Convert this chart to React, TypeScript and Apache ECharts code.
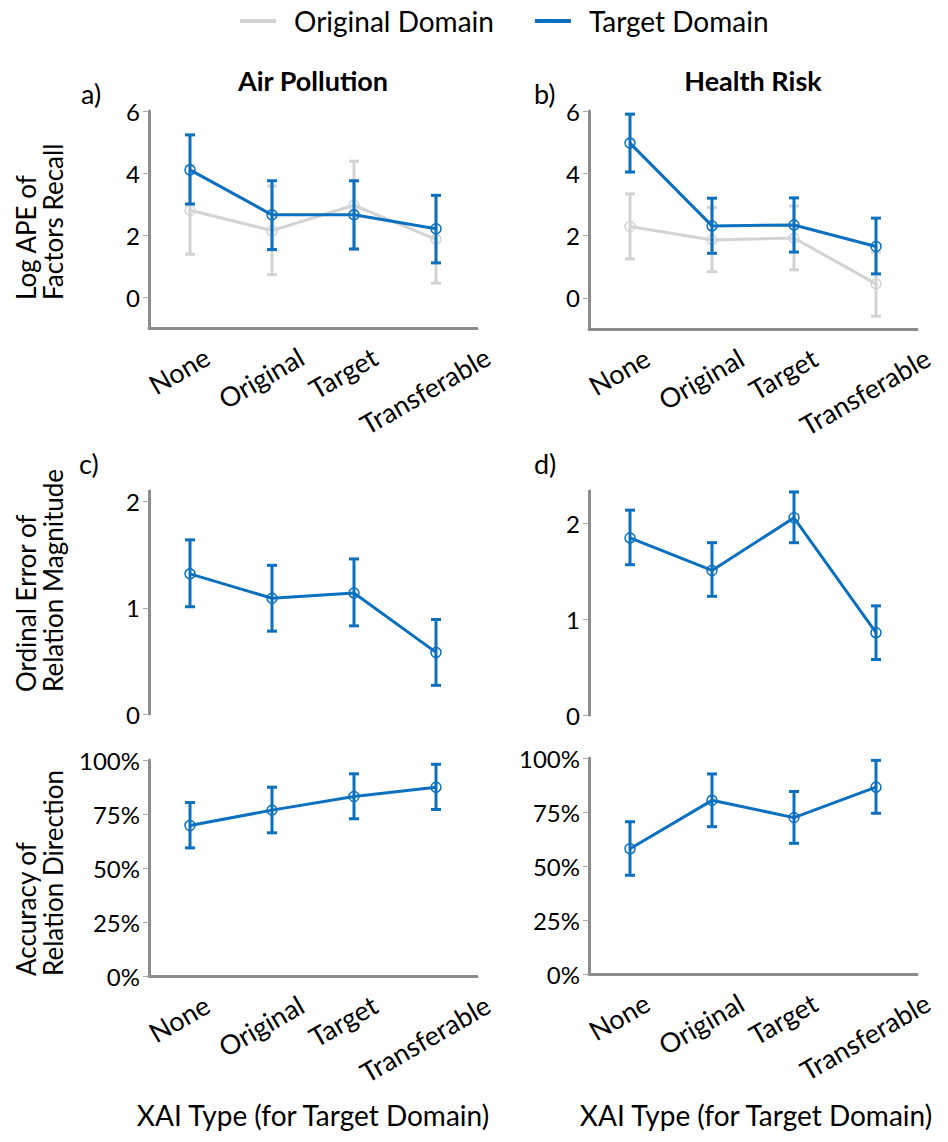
import React, { useEffect, useRef } from "react";
import * as echarts from "echarts";

const categories = ["None", "Original", "Target", "Transferable"];

// a) Air Pollution – Log APE of Factors Recall
const airTargetMean = [4.1, 2.65, 2.65, 2.2];
const airTargetLow = [3.0, 1.53, 1.55, 1.1];
const airTargetHigh = [5.23, 3.75, 3.75, 3.28];
const airOrigMean = [2.8, 2.14, 2.96, 1.86];
const airOrigLow = [1.38, 0.72, 1.54, 0.45];
const airOrigHigh = [4.24, 3.58, 4.38, 3.27];

// b) Health Risk – Log APE of Factors Recall
const healthTargetMean = [4.97, 2.31, 2.34, 1.65];
const healthTargetLow = [4.04, 1.43, 1.47, 0.77];
const healthTargetHigh = [5.9, 3.2, 3.21, 2.56];
const healthOrigMean = [2.29, 1.86, 1.92, 0.45];
const healthOrigLow = [1.25, 0.84, 0.9, -0.59];
const healthOrigHigh = [3.34, 2.9, 2.95, 1.47];

// c) / d) Ordinal Error of Relation Magnitude
const magAirMean = [1.32, 1.09, 1.14, 0.58];
const magAirLow = [1.01, 0.78, 0.83, 0.27];
const magAirHigh = [1.64, 1.4, 1.46, 0.89];
const magHealthMean = [1.85, 1.51, 2.06, 0.86];
const magHealthLow = [1.57, 1.24, 1.8, 0.58];
const magHealthHigh = [2.14, 1.8, 2.33, 1.14];

// Accuracy of Relation Direction
const dirAirMean = [0.697, 0.768, 0.831, 0.874];
const dirAirLow = [0.593, 0.663, 0.728, 0.771];
const dirAirHigh = [0.803, 0.874, 0.936, 0.98];
const dirHealthMean = [0.58, 0.804, 0.724, 0.865];
const dirHealthLow = [0.457, 0.682, 0.605, 0.744];
const dirHealthHigh = [0.705, 0.926, 0.845, 0.989];

const logTicks = [0, 2, 4, 6];
const magTicks = [0, 1, 2];

const BLUE = "#0B70BF";
const GRAY = "#D3D3D3";
const AXIS = "#8C8C8C";
const FONT = "Lato";

export default function App() {
  const ref = useRef<HTMLDivElement>(null);

  useEffect(() => {
    document.body.style.margin = "0";
    const chart = echarts.init(ref.current!, null, { renderer: "svg" });

    const grids = [
      { left: 149, top: 111, width: 328, height: 217 },
      { left: 589, top: 111, width: 328, height: 218 },
      { left: 149, top: 491, width: 328, height: 223 },
      { left: 589, top: 491, width: 328, height: 224 },
      { left: 149, top: 760, width: 328, height: 216 },
      { left: 589, top: 758, width: 328, height: 216 },
    ];

    const xAxes = grids.map((_, i) => ({
      type: "category",
      gridIndex: i,
      data: categories,
      boundaryGap: true,
      axisLine: {
        show: !(i === 2 || i === 3),
        onZero: false,
        lineStyle: { color: AXIS, width: 3 },
      },
      axisTick: { show: false },
      axisLabel: { show: false },
      splitLine: { show: false },
    }));

    const yBase = (i: number) => ({
      type: "value",
      gridIndex: i,
      axisLine: { show: true, onZero: false, lineStyle: { color: AXIS, width: 3 } },
      axisTick: { show: true, length: 6, lineStyle: { color: "#AAAAAA", width: 1 } },
      splitLine: { show: false },
      axisLabel: { color: "#000", fontSize: 24, fontFamily: FONT, margin: 9 },
    });

    const yAxes: any[] = [
      {
        ...yBase(0), min: -1, max: 6,
        axisLabel: { ...yBase(0).axisLabel, customValues: logTicks },
        axisTick: { ...yBase(0).axisTick, customValues: logTicks },
      },
      {
        ...yBase(1), min: -1, max: 6,
        axisLabel: { ...yBase(1).axisLabel, customValues: logTicks },
        axisTick: { ...yBase(1).axisTick, customValues: logTicks },
      },
      {
        ...yBase(2), min: 0, max: 2.1,
        axisLabel: { ...yBase(2).axisLabel, customValues: magTicks },
        axisTick: { ...yBase(2).axisTick, customValues: magTicks },
      },
      {
        ...yBase(3), min: 0, max: 2.34,
        axisLabel: { ...yBase(3).axisLabel, customValues: magTicks },
        axisTick: { ...yBase(3).axisTick, customValues: magTicks },
      },
      {
        ...yBase(4), min: 0, max: 1, interval: 0.25,
        axisLabel: { ...yBase(4).axisLabel, formatter: (v: number) => Math.round(v * 100) + "%" },
      },
      {
        ...yBase(5), min: 0, max: 1, interval: 0.25,
        axisLabel: { ...yBase(5).axisLabel, formatter: (v: number) => Math.round(v * 100) + "%" },
      },
    ];

    const errSeries = (name: string, gi: number, low: number[], high: number[], color: string, z: number) => ({
      type: "custom",
      name,
      xAxisIndex: gi,
      yAxisIndex: gi,
      z,
      silent: true,
      data: low.map((l, i) => [i, l, high[i]]),
      renderItem: (params: any, api: any) => {
        const x = api.value(0);
        const pLo = api.coord([x, api.value(1)]);
        const pHi = api.coord([x, api.value(2)]);
        const cap = 5;
        const st = { stroke: color, lineWidth: 3 };
        return {
          type: "group",
          children: [
            { type: "line", shape: { x1: pLo[0], y1: pLo[1], x2: pHi[0], y2: pHi[1] }, style: st },
            { type: "line", shape: { x1: pLo[0] - cap, y1: pLo[1], x2: pLo[0] + cap, y2: pLo[1] }, style: st },
            { type: "line", shape: { x1: pHi[0] - cap, y1: pHi[1], x2: pHi[0] + cap, y2: pHi[1] }, style: st },
          ],
        };
      },
    });

    const lineSeries = (name: string, gi: number, data: number[], color: string, z: number) => ({
      type: "line",
      name,
      xAxisIndex: gi,
      yAxisIndex: gi,
      z,
      data,
      symbol: "circle",
      symbolSize: 10,
      itemStyle: { color: "rgba(0,0,0,0)", borderColor: color, borderWidth: 1.5 },
      lineStyle: { color, width: 3 },
      emphasis: { disabled: true },
    });

    const O = "Original Domain";
    const T = "Target Domain";

    const series = [
      errSeries(O, 0, airOrigLow, airOrigHigh, GRAY, 1),
      lineSeries(O, 0, airOrigMean, GRAY, 2),
      errSeries(T, 0, airTargetLow, airTargetHigh, BLUE, 3),
      lineSeries(T, 0, airTargetMean, BLUE, 4),
      errSeries(O, 1, healthOrigLow, healthOrigHigh, GRAY, 1),
      lineSeries(O, 1, healthOrigMean, GRAY, 2),
      errSeries(T, 1, healthTargetLow, healthTargetHigh, BLUE, 3),
      lineSeries(T, 1, healthTargetMean, BLUE, 4),
      errSeries(T, 2, magAirLow, magAirHigh, BLUE, 3),
      lineSeries(T, 2, magAirMean, BLUE, 4),
      errSeries(T, 3, magHealthLow, magHealthHigh, BLUE, 3),
      lineSeries(T, 3, magHealthMean, BLUE, 4),
      errSeries(T, 4, dirAirLow, dirAirHigh, BLUE, 3),
      lineSeries(T, 4, dirAirMean, BLUE, 4),
      errSeries(T, 5, dirHealthLow, dirHealthHigh, BLUE, 3),
      lineSeries(T, 5, dirHealthMean, BLUE, 4),
    ];

    chart.setOption({
      animation: false,
      legend: {
        left: 240,
        top: 7,
        padding: 0,
        itemWidth: 36,
        itemHeight: 4,
        itemGap: 41,
        icon: "rect",
        selectedMode: false,
        textStyle: { fontSize: 28, fontFamily: FONT, color: "#000", padding: [0, 0, 0, 13] },
        data: [
          { name: O, itemStyle: { color: GRAY } },
          { name: T, itemStyle: { color: BLUE } },
        ],
      },
      grid: grids,
      xAxis: xAxes,
      yAxis: yAxes,
      series,
    } as any);

    // Rotated category labels placed through the chart's own scales
    const fs = 27;
    const ctx = document.createElement("canvas").getContext("2d")!;
    ctx.font = `${fs}px ${FONT}`;
    const ang = Math.PI / 6;
    const graphics: any[] = [];
    [0, 1, 4, 5].forEach((gi) => {
      const axisY = chart.convertToPixel({ yAxisIndex: gi } as any, yAxes[gi].min) as number;
      categories.forEach((c, i) => {
        const tx = chart.convertToPixel({ xAxisIndex: gi } as any, i) as number;
        const L = ctx.measureText(c).width;
        const h = fs * 0.8;
        const H = L * Math.sin(ang) + h * Math.cos(ang);
        graphics.push({
          type: "text",
          x: tx - 11,
          y: axisY + 17 + H / 2,
          rotation: ang,
          style: { text: c, fontSize: fs, fontFamily: FONT, fill: "#000", align: "center", verticalAlign: "middle" },
        });
      });
    });

    const txt = (text: string, x: number, y: number, extra: any = {}) => ({
      type: "text",
      x,
      y,
      style: { text, fontSize: 27, fontFamily: FONT, fill: "#000", align: "left", verticalAlign: "middle", ...extra },
    });

    graphics.push(
      txt("Air Pollution", 313, 80, { align: "center", fontWeight: "bold", fontSize: 27 }),
      txt("Health Risk", 753, 80, { align: "center", fontWeight: "bold", fontSize: 27 }),
      txt("a)", 81, 93),
      txt("b)", 534, 93),
      txt("c)", 79, 463),
      txt("d)", 534, 463),
      txt("XAI Type (for Target Domain)", 313, 1115, { align: "center", fontSize: 28 }),
      txt("XAI Type (for Target Domain)", 756, 1115, { align: "center", fontSize: 28 })
    );

    const yName = (text: string, bottom: number) => ({
      type: "text",
      x: 12,
      y: bottom,
      rotation: Math.PI / 2,
      style: { text, fontSize: 26, fontFamily: FONT, fill: "#000", align: "left", verticalAlign: "top", lineHeight: 27 },
    });
    graphics.push(
      yName("Log APE of\nFactors Recall", 300),
      yName("Ordinal Error of\nRelation Magnitude", 692),
      yName("Accuracy of\nRelation Direction", 976)
    );

    chart.setOption({ graphic: graphics } as any);

    return () => chart.dispose();
  }, []);

  return <div ref={ref} style={{ width: 948, height: 1142 }} />;
}
